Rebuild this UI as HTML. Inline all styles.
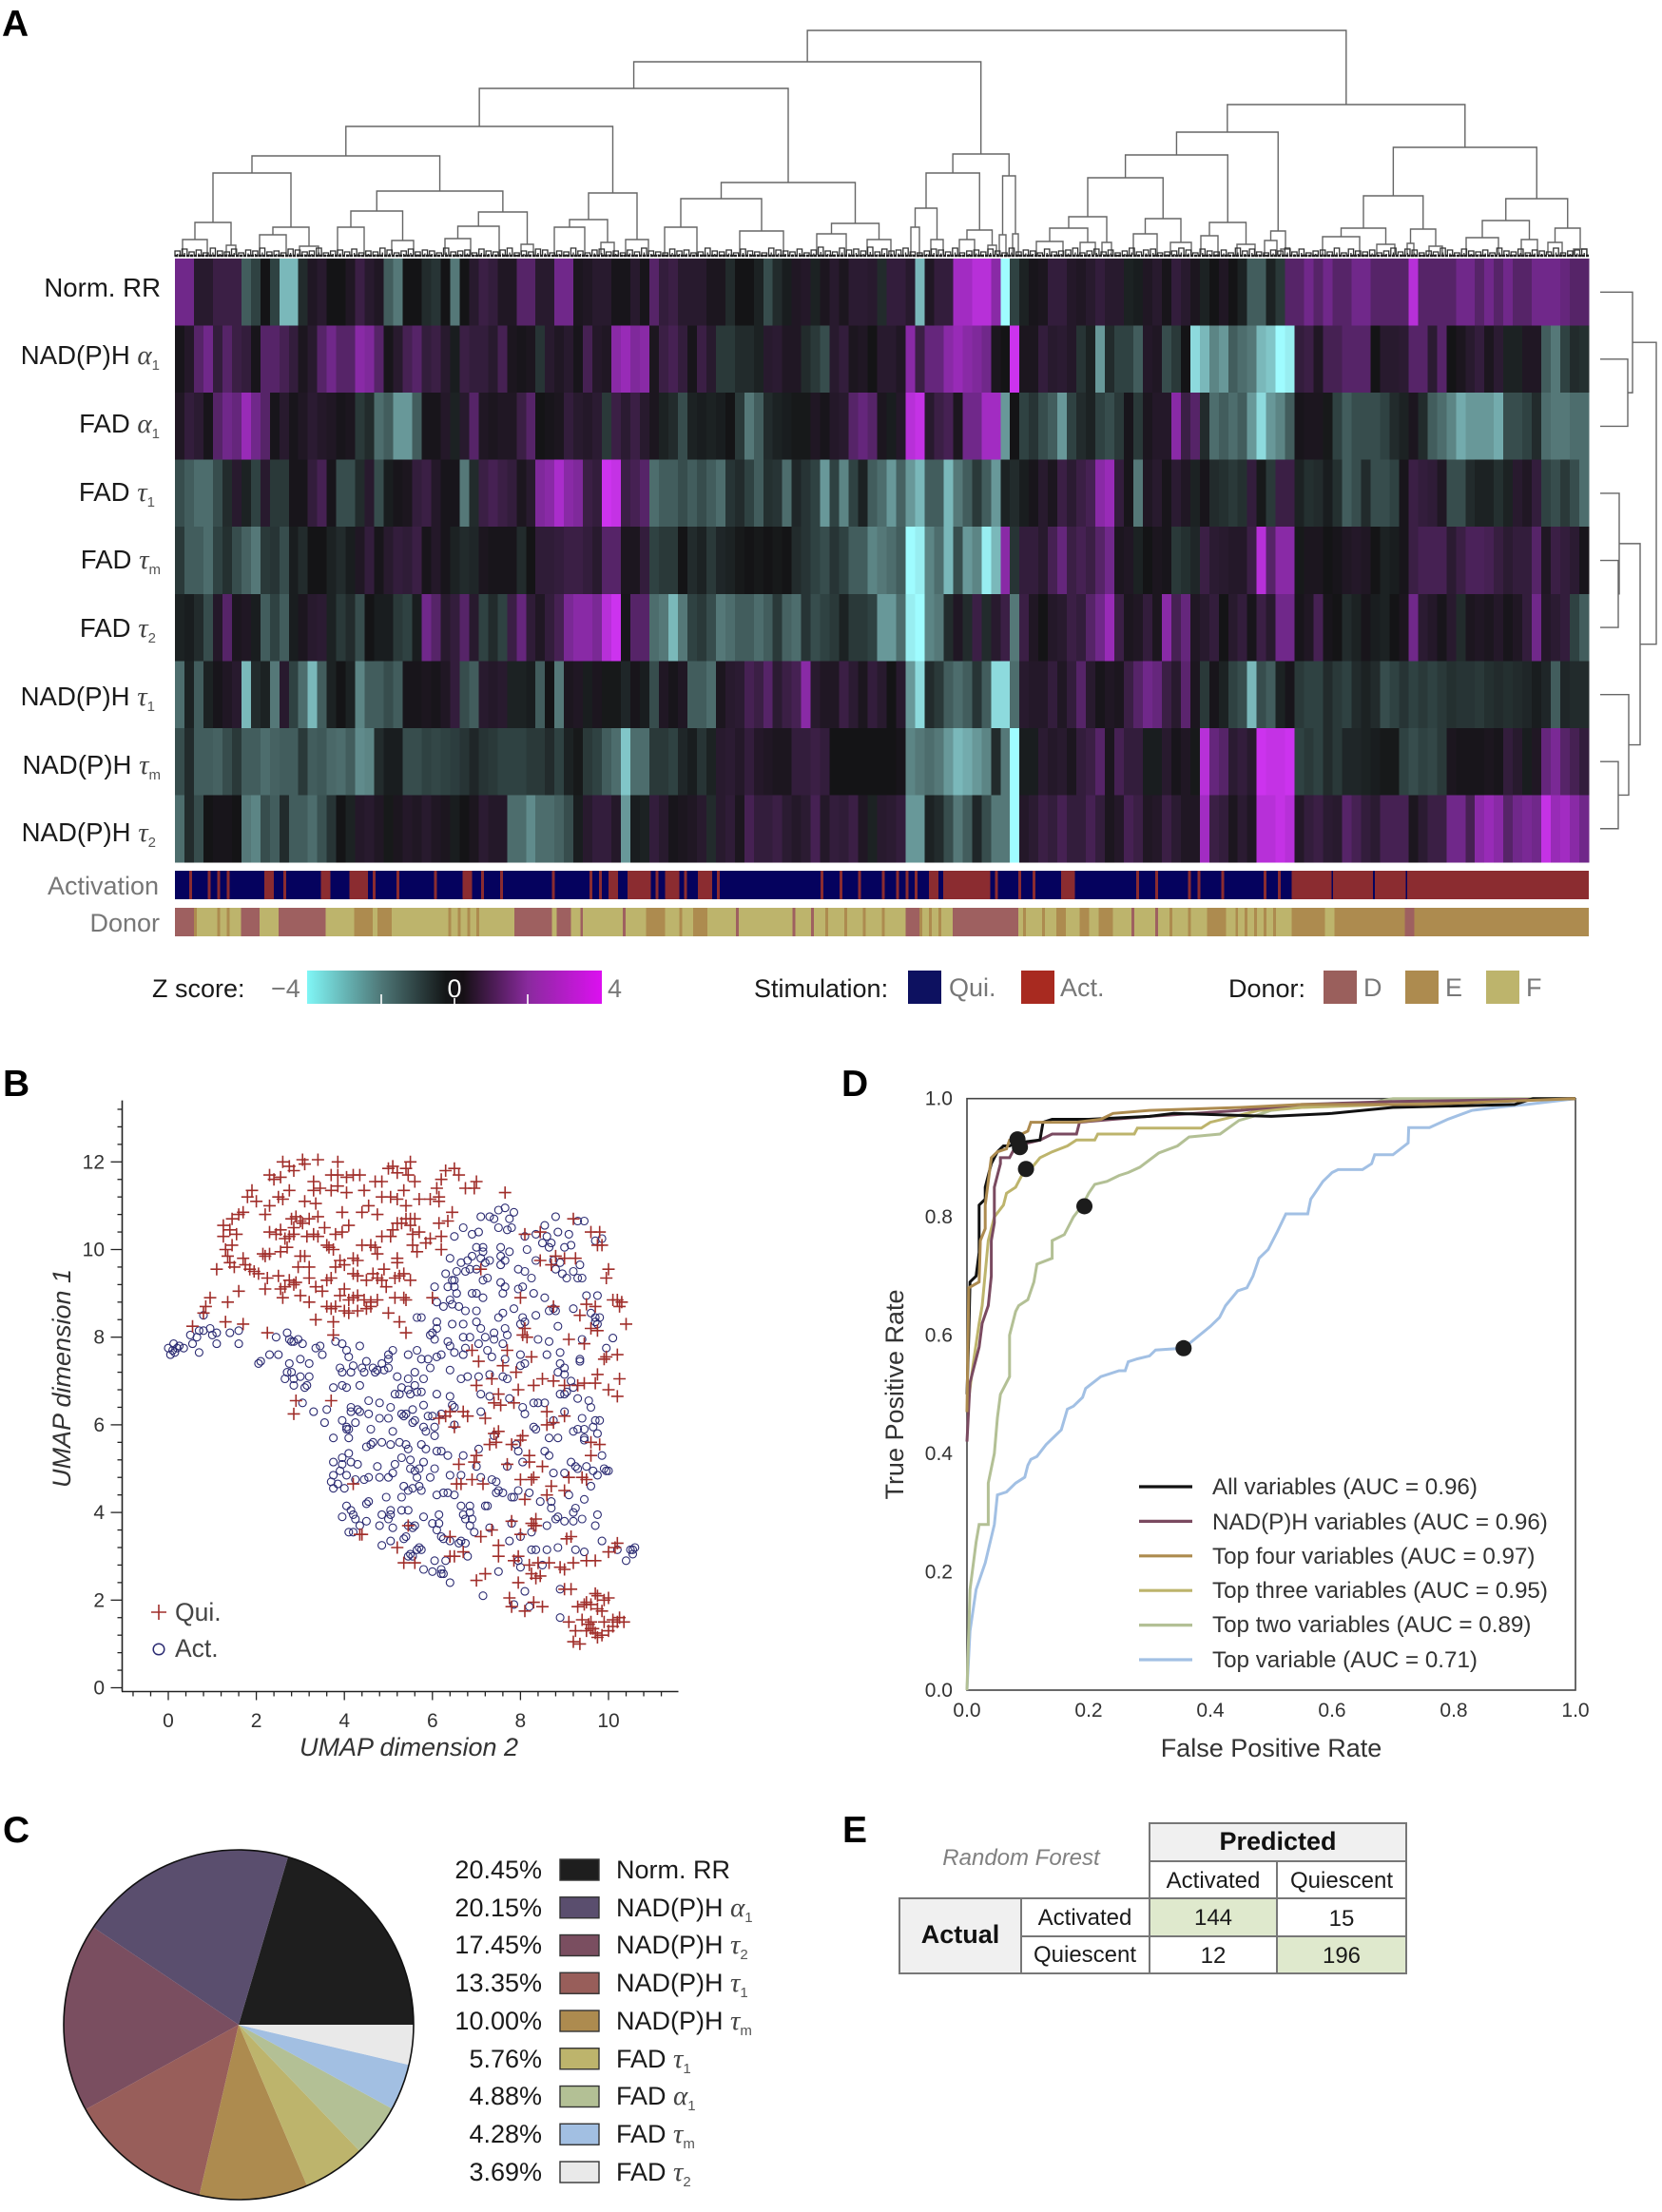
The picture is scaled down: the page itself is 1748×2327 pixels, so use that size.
<!DOCTYPE html>
<html lang="en"><head><meta charset="utf-8"><title>Multi-panel figure</title>
<style>
html,body{margin:0;padding:0;background:#fff}
svg{display:block}
text{font-family:"Liberation Sans",sans-serif}
.p{font-size:39px;font-weight:700;fill:#000}
.lab{font-size:27px;fill:#1a1a1a}
.rl{font-size:27.6px;fill:#1a1a1a}
.gr{font-family:"Liberation Serif",serif;font-style:italic;fill:#444;font-size:29px}
.sb{font-size:15px;fill:#555}
.gy{font-size:27px;fill:#777}
.tk{font-size:21px;fill:#333}
.ttl{font-size:27px;fill:#333}
.leg{font-size:24.2px;fill:#333}
.tb{font-size:24px;fill:#1a1a1a;text-anchor:middle}
.tbb{font-size:27px;font-weight:700;fill:#111;text-anchor:middle}
</style></head><body>
<svg id="fig" xmlns="http://www.w3.org/2000/svg" width="1748" height="2327" viewBox="0 0 1748 2327">
<defs><linearGradient id="zgrad" x1="0" x2="1" y1="0" y2="0">
<stop offset="0" stop-color="#80f6f6"/><stop offset=".25" stop-color="#4f7878"/><stop offset=".47" stop-color="#141718"/><stop offset=".53" stop-color="#161016"/><stop offset=".75" stop-color="#8a2a9e"/><stop offset="1" stop-color="#dc10f0"/></linearGradient></defs>
<rect width="1748" height="2327" fill="#fff"/>
<text class="p" x="2" y="38">A</text>
<text class="p" x="3" y="1153">B</text>
<text class="p" x="3" y="1938">C</text>
<text class="p" x="885" y="1153">D</text>
<text class="p" x="886" y="1938">E</text>

<g id="heat" shape-rendering="crispEdges"></g>
<g id="dendroTop" fill="none" stroke="#666" stroke-width="1.4"></g>
<g id="dendroRight" fill="none" stroke="#666" stroke-width="1.4"></g>

<g text-anchor="end">
<text class="rl" x="169" y="312">Norm. RR</text>
<text class="rl" x="168" y="383">NAD(P)H <tspan class="gr">α</tspan><tspan class="sb" dy="6">1</tspan></text>
<text class="rl" x="168" y="455">FAD <tspan class="gr">α</tspan><tspan class="sb" dy="6">1</tspan></text>
<text class="rl" x="163" y="527">FAD <tspan class="gr">τ</tspan><tspan class="sb" dy="6">1</tspan></text>
<text class="rl" x="169" y="598">FAD <tspan class="gr">τ</tspan><tspan class="sb" dy="6">m</tspan></text>
<text class="rl" x="164" y="670">FAD <tspan class="gr">τ</tspan><tspan class="sb" dy="6">2</tspan></text>
<text class="rl" x="163" y="742">NAD(P)H <tspan class="gr">τ</tspan><tspan class="sb" dy="6">1</tspan></text>
<text class="rl" x="169" y="814">NAD(P)H <tspan class="gr">τ</tspan><tspan class="sb" dy="6">m</tspan></text>
<text class="rl" x="164" y="885">NAD(P)H <tspan class="gr">τ</tspan><tspan class="sb" dy="6">2</tspan></text>
<text class="gy" x="167" y="941">Activation</text>
<text class="gy" x="168" y="980">Donor</text>
</g>

<text class="lab" x="160" y="1049">Z score:</text>
<text class="gy" x="285" y="1049">−4</text>
<rect x="323" y="1021" width="310" height="35" fill="url(#zgrad)"/>
<g stroke="#fff" stroke-width="1.6"><line x1="401" x2="401" y1="1046" y2="1056"/><line x1="478" x2="478" y1="1050" y2="1056"/><line x1="555" x2="555" y1="1046" y2="1056"/></g>
<text x="478" y="1049" text-anchor="middle" font-size="27" fill="#fff">0</text>
<text class="gy" x="639" y="1049">4</text>
<text class="lab" x="793" y="1049">Stimulation:</text>
<rect x="955" y="1021" width="35" height="35" fill="#0d1160"/>
<text class="gy" x="998" y="1048">Qui.</text>
<rect x="1074" y="1021" width="35" height="35" fill="#a82a20"/>
<text class="gy" x="1115" y="1048">Act.</text>
<text class="lab" x="1292" y="1049">Donor:</text>
<rect x="1392" y="1021" width="35" height="35" fill="#9a5f5c"/>
<text class="gy" x="1434" y="1048">D</text>
<rect x="1478" y="1021" width="35" height="35" fill="#ad8b4f"/>
<text class="gy" x="1520" y="1048">E</text>
<rect x="1563" y="1021" width="35" height="35" fill="#bdb46c"/>
<text class="gy" x="1605" y="1048">F</text>

<g id="umap"></g>
<text class="ttl" font-style="italic" x="430" y="1847" text-anchor="middle">UMAP dimension 2</text>
<text class="ttl" font-style="italic" transform="translate(74,1450) rotate(-90)" text-anchor="middle">UMAP dimension 1</text>
<text x="184" y="1705" font-size="26.5" fill="#444">Qui.</text>
<text x="184" y="1743" font-size="26.5" fill="#444">Act.</text>

<g id="roc"></g>
<text class="ttl" x="1337" y="1848" text-anchor="middle">False Positive Rate</text>
<text class="ttl" transform="translate(950,1467) rotate(-90)" text-anchor="middle">True Positive Rate</text>
<g>
<text class="leg" x="1275" y="1572">All variables (AUC = 0.96)</text>
<text class="leg" x="1275" y="1609">NAD(P)H variables (AUC = 0.96)</text>
<text class="leg" x="1275" y="1645">Top four variables (AUC = 0.97)</text>
<text class="leg" x="1275" y="1681">Top three variables (AUC = 0.95)</text>
<text class="leg" x="1275" y="1717">Top two variables (AUC = 0.89)</text>
<text class="leg" x="1275" y="1754">Top variable (AUC = 0.71)</text>
</g>

<g id="pie"></g>
<g text-anchor="end">
<text class="lab" x="570" y="1976">20.45%</text>
<text class="lab" x="570" y="2016">20.15%</text>
<text class="lab" x="570" y="2055">17.45%</text>
<text class="lab" x="570" y="2095">13.35%</text>
<text class="lab" x="570" y="2135">10.00%</text>
<text class="lab" x="570" y="2175">5.76%</text>
<text class="lab" x="570" y="2214">4.88%</text>
<text class="lab" x="570" y="2254">4.28%</text>
<text class="lab" x="570" y="2294">3.69%</text>
</g>
<text class="lab" x="648" y="1976">Norm. RR</text>
<text class="lab" x="648" y="2016">NAD(P)H <tspan class="gr">α</tspan><tspan class="sb" dy="6">1</tspan></text>
<text class="lab" x="648" y="2055">NAD(P)H <tspan class="gr">τ</tspan><tspan class="sb" dy="6">2</tspan></text>
<text class="lab" x="648" y="2095">NAD(P)H <tspan class="gr">τ</tspan><tspan class="sb" dy="6">1</tspan></text>
<text class="lab" x="648" y="2135">NAD(P)H <tspan class="gr">τ</tspan><tspan class="sb" dy="6">m</tspan></text>
<text class="lab" x="648" y="2175">FAD <tspan class="gr">τ</tspan><tspan class="sb" dy="6">1</tspan></text>
<text class="lab" x="648" y="2214">FAD <tspan class="gr">α</tspan><tspan class="sb" dy="6">1</tspan></text>
<text class="lab" x="648" y="2254">FAD <tspan class="gr">τ</tspan><tspan class="sb" dy="6">m</tspan></text>
<text class="lab" x="648" y="2294">FAD <tspan class="gr">τ</tspan><tspan class="sb" dy="6">2</tspan></text>

<g stroke="#777" stroke-width="2">
<rect x="1209" y="1918" width="270" height="40" fill="#f0f0f0"/>
<rect x="1209" y="1958" width="134" height="39" fill="#fff"/>
<rect x="1343" y="1958" width="136" height="39" fill="#fff"/>
<rect x="946" y="1997" width="128" height="79" fill="#f0f0f0"/>
<rect x="1074" y="1997" width="135" height="40" fill="#fff"/>
<rect x="1074" y="2037" width="135" height="39" fill="#fff"/>
<rect x="1209" y="1997" width="134" height="40" fill="#dfe9cd"/>
<rect x="1343" y="1997" width="136" height="40" fill="#fff"/>
<rect x="1209" y="2037" width="134" height="39" fill="#fff"/>
<rect x="1343" y="2037" width="136" height="39" fill="#dfe9cd"/>
</g>
<text x="1074" y="1962" font-size="24" font-style="italic" fill="#808080" text-anchor="middle">Random Forest</text>
<text class="tbb" x="1344" y="1946">Predicted</text>
<text class="tb" x="1276" y="1986">Activated</text>
<text class="tb" x="1411" y="1986">Quiescent</text>
<text class="tbb" x="1010" y="2044">Actual</text>
<text class="tb" x="1141" y="2025">Activated</text>
<text class="tb" x="1141" y="2064">Quiescent</text>
<text class="tb" x="1276" y="2025">144</text>
<text class="tb" x="1411" y="2026">15</text>
<text class="tb" x="1276" y="2065">12</text>
<text class="tb" x="1411" y="2065">196</text>
</svg>
<script>
/* ---------- Panel A data ---------- */
const normRR=[2,2,.5,.5,1,1,1,-1.5,-1,0,-1,-3,-3,-.5,.3,.5,0,0,.3,1,.5,.3,-1.5,-2,0,0,-.5,-.7,0,-2,0,.5,1,.8,.3,.3,1.5,1.5,.5,.5,2,2,.2,.3,.5,.5,.1,.1,.5,.1,
1.5,.8,1,.5,.5,.5,.2,.2,-.5,0,0,-.3,-1.2,-.5,-.2,.3,.4,-.3,.2,.5,.2,.6,.6,.5,-.5,.8,.8,.5,-3,.3,.8,.8,3,3,3.5,3.5,2.5,-4,-1,-.3,.1,.2,.8,.8,.4,.3,.5,.8,.5,.5,
-.3,-.2,.3,.5,.1,.8,.5,.2,-.3,0,.3,0,-.3,-1.5,-1.5,-.3,-.8,1.5,1.5,2,1.5,2,1.5,1.5,2,2,1.5,1.5,1.5,1.5,3.5,1.5,1.5,1.5,1.5,2,2,1.5,2,1.5,2,1.5,1.5,2,2,2,1.8,1.5,1.5];
const nadA1=[.1,.4,1.5,2,.8,1.5,1,.8,.1,1.5,1.5,1.2,.8,.2,.5,1.5,2,1.5,1.5,2.5,2.3,1.5,.1,.5,1.2,1.5,.8,1,.5,-.2,1,.8,.8,.5,1.2,.2,.1,.2,-.7,.5,.3,.5,.1,1.2,.4,.3,2.5,2.8,2.3,2.5,
.2,1,1.2,.8,.1,1,.5,-.8,-.8,-.5,-.5,-.3,.5,.6,.3,.3,-.5,-.8,-1.2,.5,.8,.2,.3,0,.5,.5,.3,2.5,1,1.8,1.8,2.5,2.8,2.5,2.3,2,.2,0,4,.2,.2,.8,.5,.6,.4,-.7,-.3,-2.5,-.5,-1,
-1,-1.5,.4,.3,-1.2,-.8,0,-3.5,-3,-2.2,-2.5,-1.5,-1.8,-2,-3,-3.2,-4,-3.8,.8,1,.3,1.2,1.2,1.5,1.5,1.5,0,.5,.5,.6,1.5,1.5,.6,1.5,0,.2,.5,.8,.2,.6,-.3,-.3,.3,.3,-1.5,-2,-1,-.5,-.6];
const fadA1=[.3,.8,.6,.1,1.5,2,1.8,2.8,2,1.5,.1,.5,.1,.3,.6,.4,.3,.1,.2,-.8,-.5,-1.8,-1.5,-2.5,-2.5,-1.5,.1,.1,.4,-.3,.5,1.5,.3,.2,.3,.3,1,1.5,0,.1,.2,.8,.5,.4,.6,-.8,1,.6,1,.5,
.2,-.3,-.5,-1.2,-.3,-.2,-.3,-.2,0,-.8,-2,-1.5,-.5,-.3,-.2,-.1,-.1,.3,.1,.4,.5,1.5,1.8,1.5,.2,-.2,.4,3.5,3.8,.5,1,1.2,.2,2,2,3,3,-2.5,0,-1,-.7,-1.2,-1.5,-2.5,-1,-.5,-.3,-1,-1.2,-.8,
.1,-.8,.2,.4,.4,2.5,1,1.5,-.5,-1.8,-1.5,-1.8,-1.5,-2.5,-3.5,-2.5,-2.2,-1.5,.1,.2,.2,-.1,-1,-1.5,-1.2,-1.2,-1.2,-1,-.5,-.3,.2,-.5,-1.5,-1.8,-2.2,-2.8,-2.5,-2.5,-2.5,-2.8,-1.2,-1.2,-1,-.5,-1.8,-2,-2,-1.8,-1.8];
const fadT1=[-1.2,-1.5,-1.8,-1.8,-1.2,-.5,.5,-.3,-1,.5,-.8,-.8,.1,.1,.8,1.2,.1,-1.2,-1.2,-.5,.5,-1.2,-.2,.1,.2,.8,1,.4,.1,.1,-2,-.5,1,1.2,1,.8,.2,.5,2.3,2.5,3.2,2.5,2.3,1,.8,4,3.8,1,1.2,1.5,
-1.8,-1.5,-1.5,-1.2,-1.5,-1.2,-1.5,-1.8,-.7,-.5,-1,-1.5,-.6,-.7,-1.8,-.4,-.7,-1,-2.5,-1,-2.2,-1,-.3,-1.5,-1.8,-2.5,-1.6,-2.5,-3,-1.5,-1.5,-3,-2,-1.5,-.8,-1.5,-2.5,-.3,-.5,-.2,.1,.5,.2,1,.6,1,1.2,2.5,2.8,.8,
.1,-2,.3,.5,.1,.6,.3,-.3,.1,-.5,-.6,-.8,-.6,.8,-.1,-.8,1,1,-.3,-.6,-.5,-.2,-.6,-1.5,-1.2,-.5,-1.2,-1.2,-1,.1,1,.8,.7,.3,-1.2,-1.2,-.5,-.3,-.3,-.6,-.3,.5,.3,.8,-1,-1.2,-.8,-1.2,-1.8];
const fadTm=[-.8,-1.5,-1.5,-1.8,-1,-.6,-1.2,-1.6,-2,-.8,-.7,-1.2,-.2,-.5,0,0,-.3,-.5,-.2,.3,.8,.1,.5,.8,.7,1,.1,.4,.1,-.3,-.5,-.4,.2,.1,.1,.1,-.5,0,.7,.7,.8,1,1,.8,.5,1.5,1.5,.2,.2,.8,
-1,-.8,-.8,0,-.5,-.3,-.8,-.4,-.3,-.1,0,-.1,0,-.1,0,-.5,-.7,-1,-1.2,-.7,-1,-1.5,-1.5,-2.2,-2,-1.8,-1.5,-4,-3.8,-2.2,-1.8,-3,-1.2,-2.5,-2.2,-3.8,-3,2.5,-.7,.8,.8,.5,1.2,1.8,1,1.2,1,1.5,2,.2,
.3,-.3,0,.2,.1,-.8,-.6,-.4,1,.6,.5,.4,.4,1,3.5,1.5,2.5,2.5,-.1,.2,.2,0,.1,.3,.4,.3,0,-.3,-.2,.1,1,1.2,1.2,1.2,.6,1,1.3,1.3,1.2,.9,.6,.8,.8,1.5,.3,1,.8,.6,.1];
const fadT2=[-.3,-.2,-.5,-1.2,.4,1.5,.2,.3,-.2,-1.5,-1,-1.5,-.2,.2,.5,.6,-.3,-.8,-.5,-1.2,0,-.2,-.2,-.8,-1,-.2,2,1.5,.5,.8,1.5,.5,-1,-.5,-1,1,1.8,.7,.3,.8,1.2,2.2,2.5,2.5,2.2,3.5,4,.1,1.5,1.5,
-1.8,-2,-3,-2,-1,-.8,-1.2,-2,-1.8,-1.5,-1.5,-1.8,-1.5,-.8,-1.6,-1.8,-.7,-1.2,-1,-.8,-.3,-.8,-.8,-1,-2.5,-2.5,-1.8,-3.8,-4,-2.2,-2,-.5,.3,-.5,1,-.5,.5,1,-2,1,.3,0,.4,.5,1,.8,1.5,2,2.8,1,
.2,.3,.8,.2,2.5,1.2,1.8,.3,.5,.8,0,.5,.8,.1,1,.5,2,2,.1,.3,1.2,.1,0,-.5,-.3,.1,-.2,-.3,0,.2,2,.6,.4,.1,.5,-.5,.2,.3,.2,.4,.1,.3,.8,2,.4,.6,.8,-1,-1.5];
const nadT1=[-1.8,-.3,-1.5,-.3,.1,.3,.5,-3,-.5,-.3,-2,.5,-1,-1.8,-3,-1.5,-.3,0,-.3,-2.2,-1.5,-1.5,-1.2,-1.5,.1,.1,.2,.1,.3,.8,-1.2,-1.5,.5,.4,.5,-.3,-.3,-.2,-1.5,0,-2,.2,.3,-.2,.2,-.1,-.1,-.4,.1,-.2,
-1.2,.3,.1,.3,-1.5,-1.5,-1.8,.2,.5,.6,1.2,1,1.5,.6,1,1.2,2.5,.5,.3,.3,1,.6,.2,.8,.5,0,.5,-2.5,-3.5,-.5,-.8,-1.5,-1.8,-1.5,-.7,-1.5,-3.5,-3.5,-1.8,.5,.4,.4,.8,.3,.8,1.5,.5,.1,.3,.2,
1,1.5,2,1.8,1,.5,1.6,.2,-.8,.1,-.3,-1,-1.2,-3,-1.2,-1.5,-.3,.1,-.8,-1,-1,-.5,-.8,-1,-.5,-.3,-.5,-1.2,-1,-.7,-1,-.8,-1,-.8,-.6,-.7,-.7,-.8,-.6,-.5,-.6,-.5,-.4,-.2,-.4,-1.5,-.4,-.5,-.5];
const nadTm=[-1.2,-.5,-1.5,-1.5,-1.6,-1.2,-.8,-1.5,-1.5,-1.8,-1.6,-1.5,-1.5,-.8,-1.5,-1.4,-1.7,-1.8,-1.5,-2.3,-2.2,-.5,-.2,-.2,-1.2,-1.2,-1,-1.1,-1,-.9,-.7,-.4,-.7,-.8,-1,-1,-1,-.8,-.8,-.5,-1,-.3,-.1,-.8,-1,-1.5,-1.8,-3.2,-1.8,-1.8,
-.8,-.8,-1,-.4,-.2,-.7,-.3,.5,.6,.4,.8,.4,.3,.2,.2,.8,.8,1,.8,0,0,0,0,0,0,0,.1,-2.2,-2,-1.8,-2,-2.5,-3,-2.8,-2.5,-2.2,-.5,-2,-4,-.2,-.2,.6,.4,.5,.2,.8,1,1.5,.2,1.2,
.8,.8,-.2,-.2,.5,.1,.3,-.1,3.5,1.8,1.5,.6,.8,.5,4,3.8,3.8,4,-1,-.8,-1,-.5,-.8,-.4,-.4,-.3,-.2,-.1,-.1,-1,-1.2,-1,-1.1,-.8,.2,.1,.1,.1,.2,.1,.8,.5,-.2,.3,1.8,2.2,1.5,1.2,.8];
const nadT2=[-1.8,-.5,-1.2,0,.1,.1,0,-2,-2.2,-1.2,-1.5,-.5,-1.5,-1.5,-1.8,-1.3,-.7,0,-.3,.4,.5,.3,-.1,.2,.4,.3,.5,.3,.2,-.2,0,.2,.6,.4,.4,-1.8,-1.8,-2.3,-1.8,-1.8,-1.6,-1.2,-.2,.5,.8,.8,.4,-2.5,-.2,-.3,
.8,.5,.1,.2,.3,.5,-.5,.5,.7,.2,1.2,.8,.8,1,.6,.4,.6,1.2,.4,.8,.7,1,.3,-.3,.5,.6,.8,-2.5,-2.5,-.3,-.5,-1.2,-2,-1.5,-.4,-1.2,-2,-2,-4,.4,.6,1,.8,1.2,.8,.8,1.2,.8,.2,.4,
1.2,1,.3,.4,1,.6,.3,.3,3,1,.8,.2,.6,.3,3.5,3.5,3.8,3.5,.4,.8,1,.6,.5,1.5,1.2,.8,.6,1.2,1.2,1.2,.2,.6,1,1,2,2,1.2,2.5,2.8,2.5,1.5,2,2.2,2,3.8,2.8,3,2.5,2];
const heatRows=[normRR,nadA1,fadA1,fadT1,fadTm,fadT2,nadT1,nadTm,nadT2];
const heatRowNames=['norm-rr','nadph-alpha1','fad-alpha1','fad-tau1','fad-taum','fad-tau2','nadph-tau1','nadph-taum','nadph-tau2'];
const zStops=[-4,-3,-2,-1,0,1,2,3,4];
const zColors=['#9ffcff','#7ab8ba','#557878','#2f4242','#141416','#3b1f45','#70288a','#a22cc2','#cc33ee'];
/* activated cells and donor cells out of 300 track cells: [first cell, cell count] */
const activationActSpans=[[3,.6],[7,.6],[9,.6],[11,.6],[19,2],[23,.6],[31,2],[37,4],[42,.6],[47,.6],[55,.6],[61,2],[65,.6],[69,.6],[80,.6],[88,.6],[90,.6],[92,2],[96,5],[102,.6],[104,3],[108,.6],[111,3],[115,.6],[137,.6],[141,.6],[145,.6],[150,.6],[153,.6],[155,.6],[157,.6],[160,2],[163,10],[174,.6],[179,.6],[182,.6],[188,3],[204,.6],[208,.6],[215,.6],[217,.6],[222,.6],[231,.6],[234,.6],[237,8.4],[245.7,8.5],[254.6,6.6],[261.5,38.5]];
const donorDSpans=[[0,4],[14,2],[16,2],[22,2],[24,8],[72,8],[81,3],[86,.6],[95,.6],[119,.6],[131,.6],[135,.6],[155,3],[165,14],[203,.6],[208,.6],[261,2]];
const donorESpans=[[4,.6],[9,.6],[11,.6],[38,4],[43,3],[58,.6],[60,.6],[62,.6],[64,.6],[100,4],[107,.6],[110,3],[138,.6],[142,.6],[146,.6],[150,.6],[158,.6],[160,.6],[162,.6],[180,.6],[184,.6],[187,2],[192,2],[196,3],[211,.6],[215,.6],[219,4],[225,.6],[227,.6],[229,.6],[231,.6],[233,.6],[237,7],[246,15],[263,37]];
/* dendrogram: [height, left, right]; a number is a leaf position */
const colTree=[236,[203,[175,[135,[104,[86,[34,[16,8,34],[10,54,64]],[29,[21,89,117],[9,131,151]]],[67,[46,[29,171,199],[15,228,251]],[45,[30,[17,284,311],341],[11,364,377]]]],[65,[37,[29,399,431],[13,448,462]],[16,474,498]]],[76,[59,[29,515,549],[25,594,640]],[33,[22,675,706],[16,728,753]]]],[106,[86,[49,[29,774,783],[16,795,808]],[26,[16,825,841],[10,855,864]]],[83,[21,867,874],[22,881,887]]]],[158,[129,[105,[81,[40,[28,[14,906,934],[13,952,968]],[13,975,985]],[38,[22,1008,1033],[13,1047,1069]]],[34,[20,1079,1097],[11,1117,1136]]],[25,[15,1146,1159],[6,1163,1173]]],[113,[62,[28,[19,1207,1246],[11,1264,1283]],[27,[12,1296,1303],[9,1319,1333]]],[59,[36,[18,1358,1392],[16,1416,1433]],[28,[13,1444,1459],[6,1471,1485]]]]]];
const rowTree=[59,[34,0,[29,1,2]],[42,[20,3,[19,4,5]],[30,6,[19,7,8]]]];
const twigHeights=[6,8,5,7,4,9,6,5,8,4,7,6,9,5,6,4,8,7,5,6,9,4,6,7,5,8,4,6,5,9,7,4,6,8,5,7,6,4,9,5,6,7,4,8,6,5,7,9,4,6,5,8,7,4,6,5,9,6,4,7,8,5,6,4,7,5,9,6,5,4,8,6,7,4,5,9,6,5,7,4,8,6,5,4,9,7,6,5,8,4,7,10,6,5,9,7,8,6,10,5,8,6,7,9,5,4,6,8,7,5,9,4,6,7,5,8,6,4,9,5,7,6,4,8,5,6,7,9,4,6,8,5,7,4,6,9,5,7,8,4,5,6,9,7,4,8,6,5,7,4,9,6,8,5,4,7,6,9,5,8,4,6,7,5,9,4,8,6,5,7,4,6,9,5,8,7,4,6,5,9,7,4,8,6,5,7,4,9,6,5,8,4,7,6,5,9,4,6,7,8];

/* ---------- Panel B data (UMAP dim 2, dim 1) ---------- */
const quiPoints=[[2.6,12],[2.75,11.9],[2.85,11.8],[3.05,12.05],[3.1,11.95],[3.4,12.05],[3.85,12],[5,11.85],[5.1,11.9],[5.2,11.75],[5.4,11.85],[5.45,11.7],[5.5,12],[6.3,11.8],[6.5,11.85],[6.6,11.7],[6.2,11.6],[7,11.55],[6.95,11.4],[6.75,11.4],[5.6,11.55],[5.7,11.15],[5.95,11.15],[6.1,11.4],[6.15,11.1],[2.3,11.7],[2.4,11.6],[2.55,11.65],[3.7,11.7],[3.85,11.7],[4.05,11.65],[4.2,11.7],[4.35,11.7],[4.7,11.55],[4.85,11.55],[3.3,11.55],[3.3,11.35],[3.45,11.4],[3.7,11.35],[3.85,11.45],[4.05,11.3],[4.45,11.35],[4.85,11.2],[5.05,11.2],[5.2,11.15],[5.35,11.35],[1.9,11.35],[1.8,11.2],[2,11.1],[2.5,11.2],[2.6,11.15],[2.75,11.35],[3.1,11.1],[3.35,11.05],[2.3,11],[2.2,10.8],[1.6,10.8],[1.45,10.7],[1.7,10.85],[2.8,10.7],[2.9,10.75],[3.2,10.7],[3.4,10.75],[3.95,10.85],[4.4,10.85],[4.55,11],[4.75,10.8],[5.5,10.7],[5.6,10.7],[5.4,11],[6.45,10.85],[6.35,10.65],[1.25,10.55],[1.25,10.3],[1.4,10.45],[1.55,10.35],[1.45,10.1],[1.3,10],[1.35,9.85],[1.4,9.7],[1.5,9.6],[1.1,9.55],[1.7,9.8],[1.75,9.65],[1.85,9.55],[1.95,9.5],[2.05,9.45],[2.2,9.85],[2.3,9.9],[2.15,9.9],[2.3,10.4],[2.45,10.35],[2.55,10.45],[2.65,10.25],[2.7,10.05],[2.55,9.95],[2.75,10.3],[2.85,10.5],[2.85,10.35],[3,10.65],[3.05,10.6],[3.15,10.3],[3.3,10.35],[3.4,10.3],[3.55,10.5],[3.6,10.1],[3.65,10.05],[3.8,10.35],[3.95,10.4],[4.1,10.55],[3.75,10],[3.9,9.75],[4,9.65],[4.2,9.8],[4.3,9.75],[4.4,10.1],[4.6,10.1],[4.7,10.05],[4.75,9.9],[4.85,10.3],[5.05,10.3],[5.1,10.45],[5.2,10.6],[5.3,10.6],[5.4,10.7],[5.5,10.55],[5.55,10.35],[5.7,10.4],[5.85,10.15],[5.55,10.1],[5.95,10.25],[5.65,9.95],[6.2,10.3],[6.2,10],[6.15,10.6],[2.25,9.35],[2.5,9.4],[2.2,9.1],[2.55,9.1],[2.65,9.15],[2.6,8.9],[2.85,9.2],[2.9,9.25],[2.95,9.6],[3,9.85],[3.1,9.85],[3.2,9.35],[3.2,9.6],[3.35,9.15],[3.5,9.05],[3.6,9.3],[3.7,9.35],[3.8,9.6],[4,9.1],[4.2,9.45],[4.3,9.4],[4.5,9.3],[4.65,9.45],[4.75,9.35],[4.85,9.3],[4.95,9.15],[5.15,9.35],[5.25,9.4],[5.35,9.45],[5.5,9.3],[5.2,9.7],[5.2,9.8],[4.9,9.55],[3.9,8.95],[4.1,8.85],[4.2,8.9],[4.3,8.95],[4.45,8.85],[4.6,8.8],[4.75,8.85],[3.6,8.7],[3.7,8.65],[3.8,8.7],[3.35,8.4],[3.75,8.35],[4,8.6],[4.1,8.55],[4.3,8.6],[4.5,8.65],[4.6,8.7],[5,8.55],[5.35,8.9],[5.4,8.85],[5.15,8.9],[5.25,8.35],[5.4,8.1],[6,8.9],[.55,8.25],[.8,8.55],[.85,8.7],[.95,8.9],[1.35,8.8],[1.3,8.35],[1.6,9.05],[1.7,8.3],[2.25,8.1],[2.75,9.3],[3,8.95],[3.2,8.8],[6.15,11.2],[7.65,11.3],[9.6,10.4],[9.8,10.4],[9.75,10.1],[9.85,10.1],[9.2,10.7],[8.45,10.4],[8.1,10.35],[8.8,9.85],[9,9.8],[8.7,9.65],[8.45,9.75],[9.25,9.8],[8,8.9],[7.1,9.55],[10,9.55],[9.95,9.35],[9.35,8.5],[9.5,8.75],[9.7,8.7],[10.1,8.85],[10.2,8.85],[10.3,8.8],[10.25,8.7],[10.4,8.3],[9.6,8.2],[9.75,8.15],[8.1,8.2],[8.05,8.05],[8.15,8],[9.1,7.95],[9.45,7.85],[8.75,8.7],[10.2,7.6],[9.9,7.5],[9.95,7.55],[10,6.8],[10.25,7.05],[9.75,7.15],[9.7,6.95],[9.45,6.95],[9.3,6.9],[9,6.9],[8.75,7],[8.25,7.55],[8.3,6.9],[8.5,7.05],[7.7,7.7],[7.6,7.35],[7.9,7.2],[7.95,6.8],[7.5,6.7],[7.35,7.05],[7,6.9],[7.05,7.45],[6.9,7.7],[10.2,6.65],[6.15,6.15],[6.3,6.2],[6.4,6.3],[6.5,5.95],[6.7,6.3],[6.8,6.2],[7.2,6.15],[7.5,5.85],[7.4,5.8],[7.4,6.5],[7.55,6.45],[7.85,6.5],[8.05,5.75],[8,5.65],[7.8,5.55],[8.2,5.3],[8.2,5.15],[8.3,4.8],[8.25,4.75],[8,4.75],[8.5,5.05],[9,6.2],[8.6,6],[8.75,6.05],[8.6,6.3],[9.6,5.6],[9.6,5.3],[9.8,5.55],[7.3,5.55],[7.45,5.6],[7.7,5.1],[7,5.3],[6.6,5.1],[6.95,5.15],[6.9,4.75],[7.15,4.65],[6.55,4.65],[6.65,4.65],[8.1,4.3],[8.25,3.75],[8.35,3.85],[8.6,4.4],[8.7,4.6],[9,4.5],[9.1,4.8],[9.4,4.8],[9.5,4.75],[7.8,3.8],[8,3.5],[8.35,3.7],[7.35,3.6],[7.1,3.45],[7.5,3.25],[7.5,3],[7.2,2.6],[7,2.45],[7.85,2.9],[7.95,3],[8.2,2.8],[8.25,2.6],[8.35,2.5],[8.45,2.55],[8.4,2.85],[8.65,2.85],[8.9,2.75],[9,2.7],[9.2,2.85],[9.5,2.9],[9.7,2.9],[9.05,3.4],[9.15,3.45],[8.3,3.7],[9,2.25],[9.15,2.25],[7.75,2.05],[8.3,1.95],[7.8,1.85],[8.1,1.75],[7.95,2.4],[8.5,1.85],[10.2,3.3],[10.15,3.2],[10,3.1],[4.4,3.5],[4.35,3.5],[5.45,3.7],[5.35,2.85],[5.6,2.85],[6.4,3],[6.5,3],[6.7,3.1],[6.4,3.45],[2.9,6.55],[2.85,6.25],[3.7,6.55],[3.75,8.05],[4.2,4.65],[5.2,3.2],[9.7,2.15],[9.75,2.1],[9.9,2],[10,2.05],[9.3,1.85],[9.45,1.9],[9.5,1.95],[9.6,1.9],[9.75,1.8],[9.85,1.75],[9.1,1.5],[9.25,1.3],[9.2,1.05],[9.35,1],[9.5,1.3],[9.55,1.45],[9.6,1.5],[9.65,1.35],[9.7,1.25],[9.75,1.15],[9.85,1.2],[9.9,1.5],[10,1.3],[10.1,1.55],[10.2,1.5],[10.25,1.6],[10.35,1.5],[10.1,1.4],[9.4,1.55],[9.6,1.35]];
const actPoints=[[0,7.75],[.05,7.6],[.1,7.7],[.12,7.85],[.15,7.65],[.2,7.75],[.25,7.8],[.35,7.75],[.5,8.05],[.55,7.85],[.65,8],[.7,7.65],[.7,8.15],[.8,8.15],[.8,8.5],[.95,8.2],[1,8.05],[1.1,7.85],[1.1,8.1],[1.4,8.1],[1.6,7.85],[1.6,8.15],[2.05,7.4],[2.1,7.45],[2.3,7.6],[2.5,7.6],[2.45,8],[2.7,8.1],[2.75,7.95],[2.8,7.9],[2.85,7.9],[2.95,7.95],[3.05,7.85],[3.35,7.75],[3.45,7.8],[3.8,7.9],[3.95,7.85],[4.05,7.7],[4.1,7.55],[4.35,7.8],[2.65,7.05],[2.7,7.2],[2.75,7.4],[2.8,7.2],[2.85,7.05],[2.85,6.9],[3,7.5],[3.2,7.4],[3,7.1],[3.1,6.85],[3.2,7.1],[3.15,6.9],[3.5,7.6],[3.9,7.3],[3.95,7.2],[4.15,7.2],[4.2,7.35],[4.4,7.3],[4.45,7.2],[4.35,6.9],[4.5,7.45],[4.65,7.3],[4.7,7.2],[3.75,6.85],[3.95,6.9],[4.05,6.85],[3.05,6.5],[3.3,6.3],[3.55,6.05],[3.6,6.35],[3.95,6.1],[4.15,6.3],[4.05,5.95],[4.1,5.9],[4.25,6.05],[4.35,6.3],[4.55,6.55],[4.55,6.25],[4.3,6.35],[4.15,6.4],[7.5,10.9],[7.65,10.95],[7.85,10.85],[7.3,10.75],[7.1,10.75],[7.4,10.7],[7.75,10.7],[8.8,10.75],[8.55,10.55],[9.3,10.65],[9.45,10.65],[6.7,10.5],[7.5,10.5],[7.7,10.45],[7.8,10.5],[9.85,10.25],[9.7,10.2],[6.5,10.3],[6.9,10.35],[7.05,10.4],[8.1,10.3],[8.6,10.3],[8.7,10.15],[8.85,10.4],[9.1,10.35],[8.5,10.15],[8.35,10.35],[8.65,10.05],[9,10.05],[9.15,10.1],[7,10.05],[7.15,10.05],[7.15,9.95],[7.55,10.05],[7.75,9.95],[8.15,10],[6.4,9.8],[6.65,9.7],[6.8,9.75],[6.9,9.85],[7.1,9.8],[7.2,9.7],[7.3,9.75],[7.55,9.85],[7.65,9.75],[7.55,9.65],[7.95,9.55],[8.1,9.5],[8.35,9.75],[8.75,9.75],[8.9,9.7],[8.8,9.55],[8.95,9.45],[9.05,9.35],[9.35,9.65],[9.2,9.5],[9.3,9.35],[9.4,9.35],[6.3,9.45],[6.45,9.3],[6.5,9.3],[6.55,9.5],[6.75,9.5],[6.85,9.55],[7,9.55],[7.15,9.3],[7.25,9.35],[7.55,9.25],[7.65,9.15],[7.95,9.1],[8.05,9.15],[8.25,9.35],[6.05,9.15],[6.35,9.15],[6.5,9.15],[6.55,9],[6.9,9],[7,9],[7.15,8.9],[7.6,9],[8.3,9],[8.55,8.9],[8.75,8.65],[9.2,8.65],[9.5,8.95],[9.75,8.95],[6.1,8.8],[6.4,8.85],[6.25,8.7],[6.45,8.75],[6.6,8.7],[6.75,8.6],[7,8.6],[7.6,8.55],[7.85,8.65],[8.05,8.45],[8.35,8.5],[8.65,8.6],[8.8,8.6],[9.6,8.55],[9.7,8.45],[9.8,8.45],[5.65,8.45],[5.75,8.45],[6.1,8.35],[6.45,8.3],[6.7,8.3],[7,8.35],[7.1,8.2],[7.5,8.45],[7.65,8.2],[7.7,8.05],[7.4,8.1],[7.4,7.95],[8,8.3],[8.1,8.35],[8.85,8.25],[9.7,8.35],[9.75,8.3],[5.95,8.05],[6,8.1],[6.1,8.2],[6.05,7.95],[6.35,7.9],[6.4,7.8],[6.7,8],[6.85,8],[7.2,8],[7.05,7.85],[7.6,7.85],[8.4,7.95],[8.65,7.9],[9.4,7.95],[10.1,7.98],[9.95,7.75],[5.45,7.6],[5.65,7.7],[5.75,7.5],[5.95,7.3],[5.9,7.5],[6.1,7.55],[6.2,7.6],[6.4,7.25],[6.5,7.65],[6.7,7.6],[6.75,7.75],[6.65,7.05],[6.8,7.1],[7.25,7.7],[7.35,7.55],[7.65,7.5],[7.3,7.15],[7.05,7.1],[7.6,7.1],[7.7,7.05],[8,7.6],[8.1,7.4],[8,7.35],[8.6,7.6],[8.9,7.65],[8.9,7.4],[9,7.3],[8.85,7.2],[9,7.15],[9.15,7],[9.35,7.45],[9.35,7.5],[5.1,7.7],[5,7.6],[5,7.5],[4.85,7.4],[4.75,7.25],[4.9,7.25],[5,7.3],[5.2,7.1],[5.6,7.2],[5.45,7.05],[5.8,7.05],[5.3,6.85],[5.45,6.8],[5.6,6.9],[5.15,6.7],[5.25,6.7],[5.5,6.7],[5.65,6.75],[5.75,6.75],[6.1,6.7],[6.4,6.65],[7.1,6.7],[7.3,6.65],[7.75,6.6],[8.9,6.7],[9,6.7],[9.05,6.75],[9.2,6.85],[9.3,6.6],[9.55,6.55],[8.1,6.25],[8.05,6.4],[8.4,6.5],[8.55,6.5],[9.6,6.4],[4.8,6.5],[5.05,6.4],[5,6.15],[4.8,6.15],[5.1,5.85],[5.55,6.35],[5.8,6.45],[5.6,6.1],[5.9,6.2],[6,6.2],[5.4,6.25],[5.3,6.25],[5.35,6.2],[5.55,6.05],[5.8,5.95],[5.85,5.85],[6.05,5.95],[6.05,5.75],[6.2,6.25],[6.45,6.45],[6.5,6.4],[6.5,6],[7.1,6.3],[7.4,5.75],[8.3,6.5],[8.3,5.95],[8.35,5.9],[8.65,5.7],[8.75,6.1],[8.85,5.7],[9,6.3],[9.4,6.15],[9.3,5.9],[9.2,5.85],[9.45,5.9],[9.65,5.95],[9.7,6.1],[9.8,6.1],[9.75,5.8],[9.45,5.65],[9.45,5.7],[4.6,5.9],[4.5,5.5],[4.6,5.55],[4.65,5.6],[4.85,5.6],[5.05,5.55],[5.25,5.6],[5.4,5.55],[5.45,5.45],[5.75,5.55],[5.85,5.45],[6.1,5.4],[6.2,5.4],[6.35,5.3],[6.7,5.3],[7.05,5.45],[7.9,5.55],[7.95,5.4],[8.55,5.4],[9.85,5.3],[3.75,5.7],[4.1,5.7],[4.05,5.9],[3.75,5.15],[3.95,5.1],[3.95,5.25],[4.15,5.15],[4.1,5.35],[4.3,5.1],[3.9,4.95],[3.75,4.85],[4.05,4.85],[3.7,4.7],[3.85,4.65],[3.75,4.55],[4,4.55],[4.25,4.75],[4.45,4.75],[4.55,4.8],[4.75,5.05],[4.8,4.8],[5,4.8],[5.1,4.9],[5.15,5.1],[5.3,5.25],[5.5,5],[5.5,5.2],[5.6,4.95],[5.7,5],[5.8,5.15],[5.65,4.8],[5.95,4.8],[6.05,5],[6.4,4.85],[6.65,4.85],[7,5.05],[7.1,4.8],[7.35,4.75],[7.45,4.7],[7.5,4.5],[7.6,4.45],[7.8,4.35],[7.7,5.05],[8.05,5.15],[8.65,5.3],[9.15,5.15],[9.25,5.05],[9.3,5],[9,4.9],[9.5,5.05],[9.65,4.95],[9.75,4.85],[9.9,5],[9.95,4.95],[10,4.95],[8.75,4.9],[9.6,4.6],[8.2,4.45],[7.95,4.5],[7.85,4.35],[7.45,4.45],[5.35,4.6],[5.45,4.5],[5.55,4.55],[5.7,4.6],[5.75,4.5],[6.1,4.4],[6.25,4.45],[6.35,4.45],[6.5,4.4],[4.95,4.35],[5.3,4.35],[4.55,4.25],[4.5,4.2],[8.45,4.25],[8.7,4.25],[8.7,4.1],[9.1,4.4],[9.25,4.1],[9.2,4],[9.45,4.3],[6.65,4.15],[6.85,4.15],[7.2,4.15],[7.25,4.15],[6.7,3.95],[6.85,4],[4.05,4.15],[4.15,4.05],[4.2,3.95],[4.85,3.95],[5.05,4.05],[5.3,4.05],[5.45,4.05],[5.05,3.95],[3.95,3.9],[4.25,3.85],[4.35,3.7],[4.5,3.8],[4.8,3.7],[5,3.85],[5.1,3.65],[5.45,3.7],[5.55,3.65],[5.6,3.7],[5.8,3.9],[6,3.75],[6.15,3.95],[6.1,3.6],[6.15,3.75],[6.75,3.85],[6.9,3.85],[6.85,3.7],[6.95,3.55],[7.3,3.65],[7.8,3.75],[9.4,3.85],[9.2,3.8],[9,3.8],[8.85,3.9],[8.8,3.85],[8.6,3.7],[9.75,3.95],[9.7,3.7],[9.85,3.35],[8.25,3.55],[8,3.45],[7.75,3.35],[6.2,3.45],[6.25,3.4],[5.4,3.45],[5.35,3.4],[6.4,3.35],[6.6,3.3],[6.65,3.35],[6.75,3.3],[6.8,3],[4.85,3.25],[5.05,3.35],[4.1,3.55],[4.2,3.55],[5.45,3],[5.55,3],[5.65,3.15],[5.75,3.15],[5.7,3.2],[5.5,3.05],[6.3,2.9],[6.05,2.9],[6.2,2.7],[6.25,2.6],[6.2,2.6],[6,2.65],[5.8,2.7],[6.4,2.4],[7.5,2.65],[7.95,2.9],[8,2.75],[8.5,2.8],[8.35,3.15],[8.25,3.15],[8.6,3.15],[8.85,3.2],[9.25,3.15],[9.45,3.1],[10.4,2.9],[10.5,3.15],[10.55,3.15],[10.6,3.2],[10.55,3.05],[10.2,3.15],[7.15,2.1],[8.1,2.2],[8.9,2.25],[7.85,1.9],[8.2,1.85],[8.9,1.6]];
const umapXTicks=[0,2,4,6,8,10];
const umapYTicks=[0,2,4,6,8,10,12];

/* ---------- Panel D data (FPR, TPR) ---------- */
const rocAll=[[0,.5],[.003,.6],[.005,.69],[.015,.7],[.02,.74],[.02,.82],[.03,.83],[.03,.85],[.04,.89],[.05,.91],[.06,.92],[.07,.92],[.08,.925],[.12,.93],[.125,.96],[.14,.965],[.2,.965],[.3,.97],[.34,.975],[.5,.97],[.6,.975],[.7,.985],[.9,.99],[.93,1],[1,1]];
const rocNad=[[0,.42],[.005,.52],[.02,.58],[.025,.62],[.035,.65],[.04,.7],[.04,.76],[.045,.79],[.045,.85],[.055,.89],[.055,.9],[.07,.9],[.08,.92],[.12,.93],[.14,.94],[.18,.94],[.185,.96],[.24,.965],[.3,.97],[.45,.98],[.55,.99],[.7,.995],[1,1]];
const rocFour=[[0,.47],[.003,.68],[.02,.69],[.022,.76],[.03,.78],[.03,.82],[.035,.86],[.04,.9],[.05,.91],[.065,.915],[.07,.93],[.1,.945],[.105,.96],[.18,.96],[.22,.965],[.24,.975],[.3,.98],[.45,.985],[.55,.99],[.75,.99],[1,1]];
const rocThree=[[0,.47],[.01,.55],[.02,.62],[.025,.65],[.035,.76],[.04,.78],[.045,.8],[.06,.82],[.065,.84],[.08,.85],[.09,.87],[.1,.875],[.12,.9],[.14,.91],[.165,.92],[.18,.93],[.21,.93],[.215,.94],[.275,.94],[.28,.95],[.385,.95],[.4,.96],[.44,.97],[.48,.98],[.55,.985],[1,1]];
const rocTwo=[[0,0],[.005,.17],[.015,.25],[.02,.28],[.035,.28],[.035,.35],[.045,.4],[.05,.46],[.055,.5],[.07,.53],[.07,.6],[.08,.64],[.085,.65],[.1,.66],[.11,.69],[.115,.72],[.14,.73],[.14,.76],[.16,.77],[.175,.8],[.19,.82],[.2,.84],[.21,.855],[.23,.86],[.25,.87],[.265,.875],[.284,.884],[.315,.908],[.346,.92],[.365,.935],[.416,.94],[.447,.963],[.47,.97],[.5,.98],[.55,.985],[.65,.99],[.7,1],[1,1]];
const rocOne=[[0,0],[.005,.1],[.015,.17],[.03,.215],[.045,.28],[.05,.33],[.065,.335],[.08,.35],[.095,.36],[.1,.38],[.105,.39],[.115,.395],[.13,.415],[.155,.44],[.165,.475],[.175,.48],[.19,.495],[.195,.51],[.22,.53],[.25,.54],[.26,.54],[.265,.555],[.28,.56],[.3,.565],[.31,.575],[.356,.578],[.4,.615],[.415,.63],[.425,.65],[.445,.675],[.46,.68],[.47,.7],[.48,.73],[.495,.745],[.51,.775],[.524,.805],[.56,.805],[.565,.83],[.585,.86],[.6,.875],[.61,.88],[.65,.88],[.665,.89],[.67,.905],[.7,.905],[.725,.925],[.726,.951],[.76,.951],[.79,.965],[.83,.98],[.87,.985],[.92,.99],[1,1]];
const rocSeries=[rocOne,rocTwo,rocThree,rocNad,rocAll,rocFour];
const rocNames=['top-variable','top-two','top-three','nadph','all','top-four'];
const rocColors=['#a2c0e4','#b3c095','#bdb46c','#7a4a60','#111111','#ad8b4f'];
const rocOperating=[[.083,.931],[.087,.918],[.097,.881],[.193,.818],[.356,.578]];
const rocTicks=[0,.2,.4,.6,.8,1];
const rocLegendColors=['#111111','#7a4a60','#ad8b4f','#bdb46c','#b3c095','#a2c0e4'];
const rocLegendSlots=[0,1,2,3,4,5];

/* ---------- Panel C data ---------- */
const pieValues=[20.45,20.15,17.45,13.35,10,5.76,4.88,4.28,3.69];
const pieColors=['#1e1e1e','#5a4e6e','#7a4e60','#985e5a','#ad8b4f','#bdb46c','#b3c095','#a2bfe2','#e9e9e9'];
const pieNames=['norm-rr','nadph-alpha1','nadph-tau2','nadph-tau1','nadph-taum','fad-tau1','fad-alpha1','fad-taum','fad-tau2'];

/* ---------- helpers ---------- */
const NS='http://www.w3.org/2000/svg';
function mk(tag,attrs,parent){const e=document.createElementNS(NS,tag);for(const k in attrs)e.setAttribute(k,attrs[k]);parent.appendChild(e);return e;}
function hex(c){return [parseInt(c.slice(1,3),16),parseInt(c.slice(3,5),16),parseInt(c.slice(5,7),16)];}
function zColor(z){
  z=Math.max(-4,Math.min(4,z));
  let i=0;while(i<zStops.length-2&&z>zStops[i+1])i++;
  const t=(z-zStops[i])/(zStops[i+1]-zStops[i]),a=hex(zColors[i]),b=hex(zColors[i+1]);
  return 'rgb('+a.map((v,k)=>Math.round(v+(b[k]-v)*t)).join(',')+')';
}
/* ---------- Panel A ---------- */
const HX=184,HW=1487,HY=272,HRH=70.56;
const heat=document.getElementById('heat');
const xHeat=i=>HX+i*HW/normRR.length;
const yHeat=r=>HY+r*HRH;
heatRows.forEach((row,r)=>{row.forEach((v,i)=>{
  const el=mk('rect',{x:xHeat(i).toFixed(2),y:yHeat(r).toFixed(2),width:(HW/normRR.length+.4).toFixed(2),height:(HRH+.4).toFixed(2),fill:zColor(v)},heat);
  
  
});});
const xTrack=c=>HX+c*HW/300;
const actBase=mk('rect',{x:HX,y:916,width:HW,height:30,fill:'#05025e'},heat);


activationActSpans.forEach(s=>{
  const el=mk('rect',{x:xTrack(s[0]).toFixed(2),y:916,width:(s[1]*HW/300).toFixed(2),height:30,fill:'#8b2c30'},heat);
  
  
});
const donorBase=mk('rect',{x:HX,y:955,width:HW,height:30,fill:'#bdb46c'},heat);


donorESpans.forEach(s=>{
  const el=mk('rect',{x:xTrack(s[0]).toFixed(2),y:955,width:(s[1]*HW/300).toFixed(2),height:30,fill:'#ad8b4f'},heat);
  
  
});
donorDSpans.forEach(s=>{
  const el=mk('rect',{x:xTrack(s[0]).toFixed(2),y:955,width:(s[1]*HW/300).toFixed(2),height:30,fill:'#9e6060'},heat);
  
  
});
const dTop=document.getElementById('dendroTop');
const xLeaf=u=>HX+u, yLink=h=>268-h;
function drawTop(n){
  if(typeof n==='number')return {x:n,h:0};
  const a=drawTop(n[1]),b=drawTop(n[2]);
  const el=mk('path',{d:`M${xLeaf(a.x)} ${yLink(a.h)}V${yLink(n[0])}H${xLeaf(b.x)}V${yLink(b.h)}`},dTop);
  
  
  return {x:(a.x+b.x)/2,h:n[0]};
}
drawTop(colTree);
const twigStep=HW/twigHeights.length;
twigHeights.forEach((h,i)=>{
  const x0=HX+i*twigStep,x1=x0+twigStep*.72,xm=x0+twigStep*.36;
  const el=mk('path',{d:`M${x0.toFixed(1)} 270V${270-h}H${x1.toFixed(1)}V270M${xm.toFixed(1)} 270V${270-h*.5}`,stroke:'#333','stroke-width':1.3},dTop);
  
  
});
const dBase=mk('line',{x1:HX,x2:HX+HW,y1:269,y2:269,stroke:'#222','stroke-width':2.6,'stroke-dasharray':'3 1'},dTop);


const dRight=document.getElementById('dendroRight');
const xRowLink=h=>1683+h, yRowLeaf=r=>HY+HRH*(r+.5);
function drawRow(n){
  if(typeof n==='number')return {y:yRowLeaf(n),h:0};
  const a=drawRow(n[1]),b=drawRow(n[2]);
  const el=mk('path',{d:`M${xRowLink(a.h)} ${a.y}H${xRowLink(n[0])}V${b.y}H${xRowLink(b.h)}`},dRight);
  
  
  return {y:(a.y+b.y)/2,h:n[0]};
}
drawRow(rowTree);

/* ---------- Panel B ---------- */
const um=document.getElementById('umap');
const xU=v=>177+v*46.3, yU=v=>1775.5-v*46.1;
const yAxisU=mk('line',{x1:128.5,x2:128.5,y1:1157.6,y2:1779.5,stroke:'#222','stroke-width':1.6},um);


const xAxisU=mk('line',{x1:128,x2:713.5,y1:1779.5,y2:1779.5,stroke:'#222','stroke-width':1.6},um);


for(let k=-2;k<=28;k++){
  const v=k*.4,maj=k%5===0,el=mk('line',{x1:xU(v),x2:xU(v),y1:1779.5,y2:1779.5+(maj?9:5),stroke:'#222','stroke-width':1.3},um);
  
  
}
for(let k=0;k<=33;k++){
  const v=k*.4,maj=k%5===0,el=mk('line',{x1:128.5,x2:128.5-(maj?12:5),y1:yU(v),y2:yU(v),stroke:'#222','stroke-width':1.3},um);
  
  
}
umapXTicks.forEach(v=>{
  const el=mk('text',{x:xU(v),y:1817,'text-anchor':'middle',class:'tk'},um);
  el.textContent=v;
  
  
});
umapYTicks.forEach(v=>{
  const el=mk('text',{x:110,y:yU(v)+7,'text-anchor':'end',class:'tk'},um);
  el.textContent=v;
  
  
});
function cross(x,y,s,sw){return mk('path',{d:`M${(x-s).toFixed(1)} ${y.toFixed(1)}H${(x+s).toFixed(1)}M${x.toFixed(1)} ${(y-s).toFixed(1)}V${(y+s).toFixed(1)}`,stroke:'#a02e2a','stroke-width':sw,fill:'none'},um);}
actPoints.forEach(p=>{
  const el=mk('circle',{cx:xU(p[0]).toFixed(1),cy:yU(p[1]).toFixed(1),r:4,fill:'none',stroke:'#2b2b72','stroke-width':1.1},um);
  
  
});
quiPoints.forEach(p=>{
  const el=cross(xU(p[0]),yU(p[1]),6.5,1.6);
  
  
});
const legCross=cross(167,1696,8,1.6);


const legCirc=mk('circle',{cx:167,cy:1735,r:5.8,fill:'none',stroke:'#2b2b72','stroke-width':1.5},um);



/* ---------- Panel D ---------- */
const rc=document.getElementById('roc');
const xR=v=>1017+v*640, yR=v=>1778-v*622.3;
const box=mk('rect',{x:1017,y:1155.7,width:640,height:622.3,fill:'#fff',stroke:'#444','stroke-width':1.6},rc);


rocSeries.forEach((s,i)=>{
  const el=mk('path',{d:s.map((p,j)=>(j?'L':'M')+xR(p[0]).toFixed(1)+' '+yR(p[1]).toFixed(1)).join(''),fill:'none',stroke:rocColors[i],'stroke-width':3},rc);
  
  
});
rocOperating.forEach(p=>{
  const el=mk('circle',{cx:xR(p[0]),cy:yR(p[1]),r:8.5,fill:'#1c1c1c'},rc);
  
  
});
rocTicks.forEach(v=>{
  const a=mk('text',{x:xR(v),y:1806,'text-anchor':'middle',class:'tk'},rc);
  a.textContent=v.toFixed(1);
  
  
  const b=mk('text',{x:1002,y:yR(v)+7,'text-anchor':'end',class:'tk'},rc);
  b.textContent=v.toFixed(1);
  
  
});
rocLegendSlots.forEach(i=>{
  const y=1564+i*36.4;
  const el=mk('line',{x1:1198,x2:1254,y1:y,y2:y,stroke:rocLegendColors[i],'stroke-width':3.2},rc);
  
  
});

/* ---------- Panel C ---------- */
const pg=document.getElementById('pie');
const pieTotal=pieValues.reduce((a,b)=>a+b,0);
let ang=0;
const CX=251,CY=2130,PR=184;
pieValues.forEach((v,i)=>{
  const a2=ang+v/pieTotal*2*Math.PI;
  const x1=CX+PR*Math.cos(ang),y1=CY-PR*Math.sin(ang),x2=CX+PR*Math.cos(a2),y2=CY-PR*Math.sin(a2);
  const el=mk('path',{d:`M${CX} ${CY}L${x1.toFixed(2)} ${y1.toFixed(2)}A${PR} ${PR} 0 ${a2-ang>Math.PI?1:0} 0 ${x2.toFixed(2)} ${y2.toFixed(2)}Z`,fill:pieColors[i]},pg);
  
  
  ang=a2;
  const sw=mk('rect',{x:589,y:1956+i*39.75,width:41,height:22,fill:pieColors[i],stroke:'#333','stroke-width':1.4},pg);
  
  
});
const rim=mk('circle',{cx:CX,cy:CY,r:PR,fill:'none',stroke:'#111','stroke-width':1.6},pg);


</script>
</body></html>
